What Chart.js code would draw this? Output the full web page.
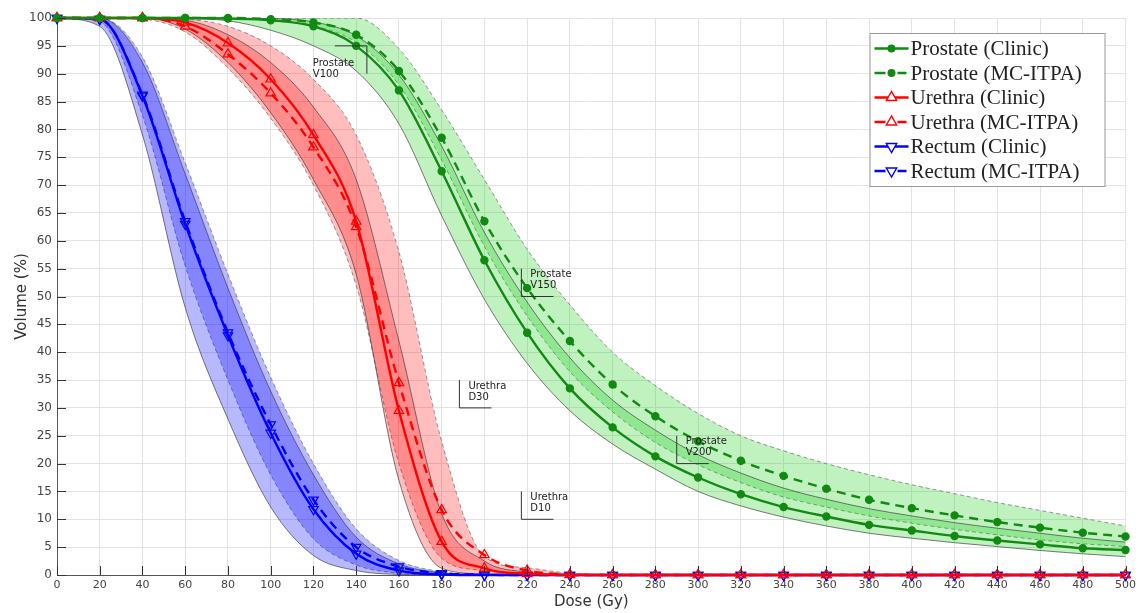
<!DOCTYPE html>
<html>
<head>
<meta charset="utf-8">
<script src="https://cdn.jsdelivr.net/npm/chart.js@4.4.1/dist/chart.umd.min.js"></script>
<style>
  html, body { margin: 0; padding: 0; background: #fff; }
</style>
</head>
<body>
<canvas id="myChart" width="1140" height="613"></canvas>
<script>
// dose axis samples (Gy)
var doses = [0,20,40,60,80,100,120,140,160,180,200,220,240,260,280,300,320,340,360,380,400,420,440,460,480,500];

// DVH curves (% volume)
var prostateClinic = [100,100,100,100,99.9,99.6,98.5,95,87,72.5,56.5,43.5,33.5,26.5,21.3,17.5,14.5,12.2,10.5,9,8,7,6.2,5.5,4.8,4.5];
var prostateMc     = [100,100,100,100,100,99.8,99.2,97,90.5,78.5,63.5,51.5,42,34.2,28.5,24,20.5,17.8,15.5,13.5,12,10.7,9.5,8.5,7.6,6.9];
var urethraClinic  = [100,100,100,99.2,95.5,89,79,63.5,29.5,6,1.2,0.2,0,0,0,0,0,0,0,0,0,0,0,0,0,0];
var urethraMc      = [100,100,100,98.5,93.5,86.5,76.8,62.5,34.5,11.7,3.6,0.8,0.1,0,0,0,0,0,0,0,0,0,0,0,0,0];
var rectumClinic   = [100,99.8,86,63,43,25.5,11.8,3.8,0.8,0.1,0,0,0,0,0,0,0,0,0,0,0,0,0,0,0,0];
var rectumMc       = [100,99.8,86.2,63.5,43.5,27,13.5,5,1.5,0.3,0.05,0,0,0,0,0,0,0,0,0,0,0,0,0,0,0];

// uncertainty bands (lower / upper edges)
var prostateClinicLo = [100,100,100,99.9,99.5,97.8,95,90.5,81,64.5,49.5,38,29.5,23.5,19,15,12.4,10.4,8.8,7.5,6.6,5.8,5.1,4.4,3.8,3.3];
var prostateClinicHi = [100,100,100,100,100,99.9,99.3,96.8,89.8,77,61.5,49,39,31.4,26,21.6,18.3,15.6,13.6,11.9,10.6,9.4,8.4,7.5,6.6,5.9];
var prostateMcLo     = [100,100,100,100,100,99.5,98.6,95.6,88,74.5,59,46.5,36.5,29.3,23.8,19.8,16.6,14,12.2,10.6,9.3,8.2,7.2,6.3,5.6,5.1];
var prostateMcHi     = [100,100,100,100,100,100,100,100,94.5,83.5,71,58.5,48.5,40,34,29,25,22.3,20,18,16.2,14.6,13,11.6,10.2,8.8];

var urethraClinicLo = [100,100,100,98,92,83,71,54,17,1.2,0.2,0,0,0,0,0,0,0,0,0,0,0,0,0,0,0];
var urethraClinicHi = [100,100,100,99.6,97,92,84,71,42,11,2.5,0.5,0,0,0,0,0,0,0,0,0,0,0,0,0,0];
var urethraMcLo     = [100,100,99.8,97.5,91,82,70,52,20,3,0.8,0.1,0,0,0,0,0,0,0,0,0,0,0,0,0,0];
var urethraMcHi     = [100,100,100,99.8,98.5,95,89,79,58,24,3.3,1.3,0.3,0,0,0,0,0,0,0,0,0,0,0,0,0];

var rectumClinicLo = [100,98.5,79,48,28,12.2,3.5,0.8,0.1,0,0,0,0,0,0,0,0,0,0,0,0,0,0,0,0,0];
var rectumClinicHi = [100,100,92,72,51.5,33,18,6.8,2,0.4,0.1,0,0,0,0,0,0,0,0,0,0,0,0,0,0,0];
var rectumMcLo     = [100,99.3,82.5,55.5,35,18,6.5,1.8,0.3,0,0,0,0,0,0,0,0,0,0,0,0,0,0,0,0,0];
var rectumMcHi     = [100,100,93,74,54,35.5,20,8.3,2.6,0.6,0.1,0,0,0,0,0,0,0,0,0,0,0,0,0,0,0];

var seriesNames = ['Prostate (Clinic)', 'Prostate (MC-ITPA)', 'Urethra (Clinic)', 'Urethra (MC-ITPA)', 'Rectum (Clinic)', 'Rectum (MC-ITPA)'];

// dose-metric call-outs: corner of the bracket in data units
var notes = [
  { lines: ['Prostate', 'V100'], x: 145, y: 95, kind: 'topRight' },
  { lines: ['Prostate', 'V150'], x: 217.3, y: 50, kind: 'bottomLeft' },
  { lines: ['Urethra', 'D30'], x: 188.3, y: 30, kind: 'bottomLeft' },
  { lines: ['Urethra', 'D10'], x: 217.3, y: 10, kind: 'bottomLeft' },
  { lines: ['Prostate', 'V200'], x: 290, y: 20, kind: 'bottomLeft' }
];

var green = '#118a11', red = '#ff0000', blue = '#0000ff';

function pts(arr) {
  return doses.map(function (d, i) { return { x: d, y: arr[i] }; });
}

function curve(label, arr, color, dashed, style, rot) {
  return {
    label: label, data: pts(arr), isCurve: true,
    borderColor: color, borderWidth: 2.4, borderDash: dashed ? [9, 6] : [],
    pointStyle: style, pointRotation: rot || 0,
    pointRadius: style === 'circle' ? 3.6 : 5.5,
    pointBackgroundColor: style === 'circle' ? color : 'rgba(0,0,0,0)',
    pointBorderColor: color, pointBorderWidth: 1.2,
    cubicInterpolationMode: 'monotone', fill: false, order: 0, clip: false
  };
}

function edge(arr, dashed, fillTo, fillColor) {
  return {
    label: '', data: pts(arr),
    borderColor: dashed ? 'rgba(80,80,80,0.75)' : 'rgba(50,50,50,0.8)',
    borderWidth: 0.8, borderDash: dashed ? [4, 3] : [],
    pointRadius: 0, cubicInterpolationMode: 'monotone', order: 1,
    fill: fillTo === undefined ? false : { target: fillTo, above: fillColor, below: fillColor }
  };
}

var greenFill = 'rgba(0,205,0,0.25)', redFill = 'rgba(255,0,0,0.26)', blueFill = 'rgba(0,0,255,0.28)';

var datasets = [
  edge(prostateClinicLo, false), edge(prostateClinicHi, false, 0, greenFill),
  edge(prostateMcLo, true), edge(prostateMcHi, true, 2, greenFill),
  edge(urethraClinicLo, false), edge(urethraClinicHi, false, 4, redFill),
  edge(urethraMcLo, true), edge(urethraMcHi, true, 6, redFill),
  edge(rectumClinicLo, false), edge(rectumClinicHi, false, 8, blueFill),
  edge(rectumMcLo, true), edge(rectumMcHi, true, 10, blueFill),
  curve(seriesNames[0], prostateClinic, green, false, 'circle'),
  curve(seriesNames[1], prostateMc, green, true, 'circle'),
  curve(seriesNames[2], urethraClinic, red, false, 'triangle'),
  curve(seriesNames[3], urethraMc, red, true, 'triangle'),
  curve(seriesNames[4], rectumClinic, blue, false, 'triangle', 180),
  curve(seriesNames[5], rectumMc, blue, true, 'triangle', 180)
];

function drawMarker(ctx, style, color, x, y) {
  ctx.save();
  ctx.strokeStyle = color;
  ctx.fillStyle = color;
  ctx.lineWidth = 1.4;
  ctx.setLineDash([]);
  if (style.kind === 'circle') {
    ctx.beginPath();
    ctx.arc(x, y, 4, 0, Math.PI * 2);
    ctx.fill();
  } else {
    var r = 6, s = style.down ? -1 : 1;
    ctx.beginPath();
    ctx.moveTo(x, y - s * r);
    ctx.lineTo(x - r * 0.87, y + s * r * 0.5);
    ctx.lineTo(x + r * 0.87, y + s * r * 0.5);
    ctx.closePath();
    ctx.fillStyle = '#fff';
    ctx.fill();
    ctx.stroke();
  }
  ctx.restore();
}

var decor = {
  id: 'decor',
  afterDraw: function (chart) {
    var ctx = chart.ctx, area = chart.chartArea;
    var xs = chart.scales.x, ys = chart.scales.y;
    ctx.save();

    // inward tick marks
    ctx.strokeStyle = '#333';
    ctx.lineWidth = 1;
    ys.ticks.forEach(function (t) {
      var py = Math.round(ys.getPixelForValue(t.value)) + 0.5;
      ctx.beginPath(); ctx.moveTo(area.left, py); ctx.lineTo(area.left + 9, py); ctx.stroke();
    });
    xs.ticks.forEach(function (t) {
      var px = Math.round(xs.getPixelForValue(t.value)) + 0.5;
      ctx.beginPath(); ctx.moveTo(px, area.bottom); ctx.lineTo(px, area.bottom - 9); ctx.stroke();
    });

    // axis titles
    ctx.fillStyle = '#333';
    ctx.font = '15px "DejaVu Sans"';
    ctx.textAlign = 'center';
    ctx.textBaseline = 'middle';
    ctx.fillText('Dose (Gy)', (area.left + area.right) / 2, 602);
    ctx.save();
    ctx.translate(22, (area.top + area.bottom) / 2);
    ctx.rotate(-Math.PI / 2);
    ctx.fillText('Volume (%)', 0, 0);
    ctx.restore();

    // call-outs
    ctx.font = '10px "DejaVu Sans"';
    ctx.textAlign = 'left';
    ctx.strokeStyle = '#333';
    notes.forEach(function (n) {
      var cx = xs.getPixelForValue(n.x), cy = ys.getPixelForValue(n.y);
      ctx.beginPath();
      if (n.kind === 'topRight') {
        var lx = xs.getPixelForValue(n.x - 15), by = ys.getPixelForValue(n.y - 5);
        ctx.moveTo(lx, cy); ctx.lineTo(cx, cy); ctx.lineTo(cx, by);
        ctx.stroke();
        ctx.fillStyle = '#222';
        ctx.fillText(n.lines[0], cx - 54, cy + 17.5);
        ctx.fillText(n.lines[1], cx - 54, cy + 28.5);
      } else {
        var ty = ys.getPixelForValue(n.y + 5), rx = xs.getPixelForValue(n.x + 15);
        ctx.moveTo(cx, ty); ctx.lineTo(cx, cy); ctx.lineTo(rx, cy);
        ctx.stroke();
        ctx.fillStyle = '#222';
        ctx.fillText(n.lines[0], cx + 9, ty + 6);
        ctx.fillText(n.lines[1], cx + 9, ty + 17);
      }
    });

    // legend box
    var bx = area.right - 256, by0 = area.top + 15, bw = 235, bh = 153;
    ctx.fillStyle = '#fff';
    ctx.fillRect(bx, by0, bw, bh);
    ctx.strokeStyle = '#9a9a9a';
    ctx.lineWidth = 1;
    ctx.strokeRect(bx + 0.5, by0 + 0.5, bw, bh);
    ctx.font = '21px "Liberation Serif"';
    ctx.textBaseline = 'middle';
    var curves = chart.data.datasets.filter(function (d) { return d.isCurve; });
    curves.forEach(function (d, i) {
      var cy = by0 + 15.5 + i * 24.5;
      var x0 = bx + 5, x1 = bx + 39, mx = (x0 + x1) / 2;
      ctx.strokeStyle = d.borderColor;
      ctx.lineWidth = 2.4;
      ctx.beginPath();
      if (d.borderDash.length) {
        ctx.moveTo(x0, cy); ctx.lineTo(mx - 6, cy);
        ctx.moveTo(mx + 6, cy); ctx.lineTo(x1 - 2, cy);
      } else {
        ctx.moveTo(x0, cy); ctx.lineTo(x1, cy);
      }
      ctx.stroke();
      drawMarker(ctx, { kind: d.pointStyle, down: d.pointRotation === 180 }, d.borderColor, mx, cy);
      ctx.fillStyle = '#222';
      ctx.fillText(d.label, bx + 41, cy + 1);
    });

    ctx.restore();
  }
};

var tickFont = { family: 'DejaVu Sans', size: 11 };

var ctx = document.getElementById('myChart').getContext('2d');
var myChart = new Chart(ctx, {
  type: 'line',
  data: { datasets: datasets },
  options: {
    responsive: false,
    animation: false,
    layout: { padding: { top: 18, right: 10, left: 0, bottom: 0 } },
    plugins: {
      legend: { display: false },
      tooltip: { enabled: false },
      filler: { propagate: false }
    },
    scales: {
      x: {
        type: 'linear', min: 0, max: 500,
        ticks: { stepSize: 20, font: tickFont, color: '#444', padding: 4, maxRotation: 0, autoSkip: false },
        grid: { color: '#e3e3e3', drawTicks: false },
        border: { color: '#555' },
        afterFit: function (s) { s.height = 38; }
      },
      y: {
        min: 0, max: 100,
        ticks: { stepSize: 5, font: { family: 'DejaVu Sans', size: 12 }, color: '#444', padding: 5 },
        grid: { color: '#e3e3e3', drawTicks: false },
        border: { color: '#555' },
        afterFit: function (s) { s.width = 57; }
      }
    }
  },
  plugins: [decor]
});
</script>
</body>
</html>
